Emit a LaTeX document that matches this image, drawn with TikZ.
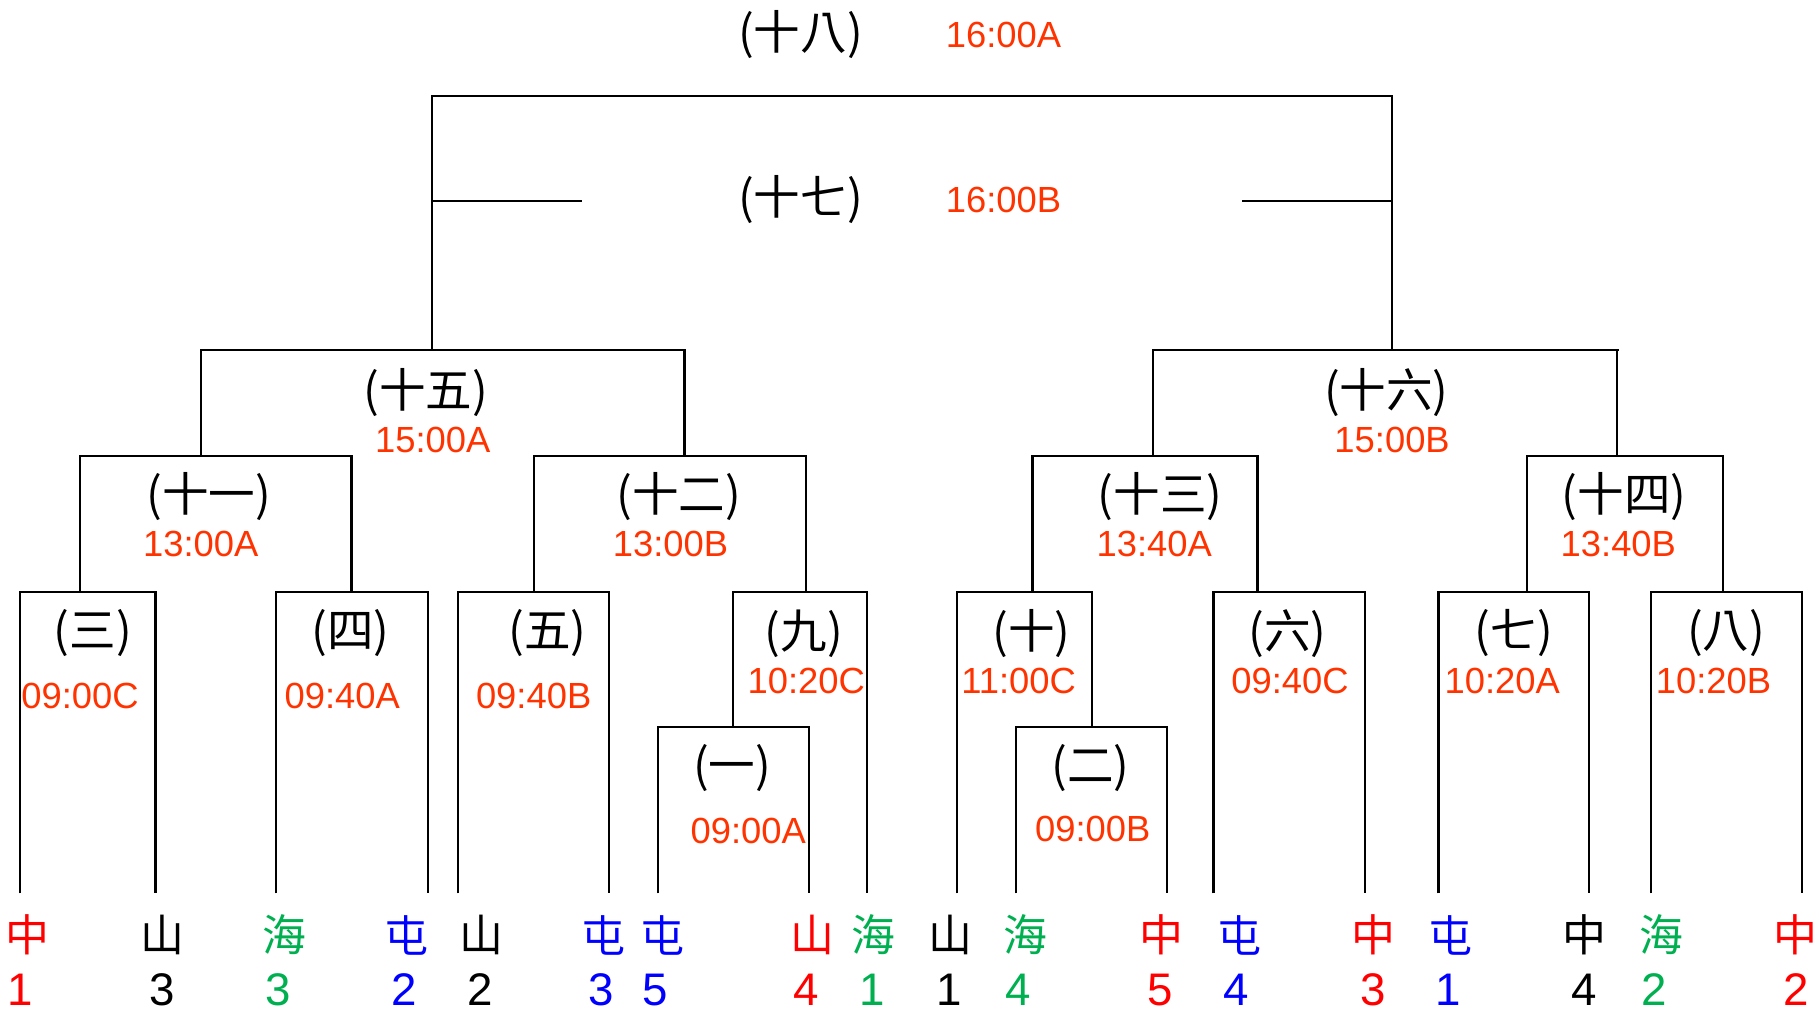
\documentclass[tikz,border=0pt]{standalone}
\usepackage{fontspec}
\setmainfont{Liberation Sans}
\newfontfamily\cjk{Noto Sans CJK TC}
\definecolor{tm}{RGB}{255,51,0}
\definecolor{rd}{RGB}{255,0,0}
\definecolor{bl}{RGB}{0,0,255}
\definecolor{gr}{RGB}{0,176,80}
\newcommand{\mybracket}[6]{%
  \coordinate (#1-tl) at (#2,#4);
  \coordinate (#1-tr) at (#3,#4);
  \coordinate (#1-bl) at (#2,#5);
  \coordinate (#1-br) at (#3,#6);
  \draw[ln] (#1-bl) -- (#1-tl) -- (#1-tr) -- (#1-br);}
\tikzset{
  lbl/.style={inner sep=0pt, font=\cjk\fontsize{26.5pt}{27pt}\selectfont},
  tim/.style={inner sep=0pt, text=tm, font=\fontsize{20.7pt}{21pt}\selectfont},
  team/.style={inner sep=0pt, font=\cjk\fontsize{25pt}{25pt}\selectfont},
  num/.style={inner sep=0pt, font=\fontsize{26pt}{26pt}\selectfont},
  ln/.style={line width=1.2pt, black}
}
\begin{document}
\begin{tikzpicture}[x=0.02321cm, y=-0.02321cm]
\useasboundingbox (0,0) rectangle (1568,871.5);
% brackets
\mybracket{m18}{372}{1200}{83}{302}{302}
\coordinate (m17l) at (372,173);
\coordinate (m17a) at (502,173);
\coordinate (m17b) at (1071,173);
\coordinate (m17r) at (1200,173);
\draw[ln] (m17l) -- (m17a);
\draw[ln] (m17b) -- (m17r);
\mybracket{m15}{173}{590}{302}{393}{393}
\mybracket{m16}{994}{1394}{302}{393}{393}
\draw[ln] (m16-tr) -- ++(2,0);
\mybracket{m11}{69}{303}{393}{510}{510}
\mybracket{m12}{460}{695}{393}{510}{510}
\mybracket{m13}{890}{1084}{393}{510}{510}
\mybracket{m14}{1316}{1485}{393}{510}{510}
\mybracket{m3}{17}{134}{510}{770}{770}
\mybracket{m4}{238}{369}{510}{770}{770}
\mybracket{m5}{395}{525}{510}{770}{770}
\mybracket{m9}{632}{747}{510}{627}{770}
\mybracket{m1}{567}{697}{627}{770}{770}
\mybracket{m10}{825}{941}{510}{770}{627}
\mybracket{m2}{876}{1006}{627}{770}{770}
\mybracket{m6}{1046}{1177}{510}{770}{770}
\mybracket{m7}{1240}{1370}{510}{770}{770}
\mybracket{m8}{1423}{1553}{510}{770}{770}
% match labels
\node[lbl] (l18) at (690,30) {(十八)};
\node[tim] (t18) at (865,30) {16:00A};
\node[lbl] (l17) at (690,172) {(十七)};
\node[tim] (t17) at (865,172) {16:00B};
\node[lbl] (l15) at (367,338) {(十五)};
\node[tim] (t15) at (373,379) {15:00A};
\node[lbl] (l16) at (1195,338) {(十六)};
\node[tim] (t16) at (1200,379) {15:00B};
\node[lbl] (l11) at (180,428) {(十一)};
\node[tim] (t11) at (173,469) {13:00A};
\node[lbl] (l12) at (585,428) {(十二)};
\node[tim] (t12) at (578,469) {13:00B};
\node[lbl] (l13) at (1000,428) {(十三)};
\node[tim] (t13) at (995,469) {13:40A};
\node[lbl] (l14) at (1400,428) {(十四)};
\node[tim] (t14) at (1395,469) {13:40B};
\node[lbl] (l3) at (80,546) {(三)};
\node[tim] (t3) at (69,600) {09:00C};
\node[lbl] (l4) at (302,546) {(四)};
\node[tim] (t4) at (295,600) {09:40A};
\node[lbl] (l5) at (472,546) {(五)};
\node[tim] (t5) at (460,600) {09:40B};
\node[lbl] (l9) at (693,546) {(九)};
\node[tim] (t9) at (695,587) {10:20C};
\node[lbl] (l1) at (631,662) {(一)};
\node[tim] (t1) at (645,716) {09:00A};
\node[lbl] (l10) at (889,546) {(十)};
\node[tim] (t10) at (878,587) {11:00C};
\node[lbl] (l2) at (940,662) {(二)};
\node[tim] (t2) at (942,715) {09:00B};
\node[lbl] (l6) at (1110,546) {(六)};
\node[tim] (t6) at (1112,587) {09:40C};
\node[lbl] (l7) at (1305,546) {(七)};
\node[tim] (t7) at (1295,587) {10:20A};
\node[lbl] (l8) at (1488,546) {(八)};
\node[tim] (t8) at (1477,587) {10:20B};
% teams
\foreach \i/\x/\nx/\c/\n/\col in {
  a/24/17/中/1/rd, b/140/140/山/3/black, c/245/240/海/3/gr, d/350/348/屯/2/bl,
  e/415/414/山/2/black, f/520/518/屯/3/bl, g/571/565/屯/5/bl, h/700/695/山/4/rd,
  i/753/752/海/1/gr, j/819/818/山/1/black, k/884/878/海/4/gr, l/1001/1000/中/5/rd,
  m/1068/1066/屯/4/bl, n/1184/1184/中/3/rd, o/1250/1248/屯/1/bl, p/1366/1366/中/4/black,
  q/1432/1426/海/2/gr, r/1548/1548/中/2/rd}{
  \node[team, text=\col] (tm\i) at (\x,806) {\c};
  \node[num, text=\col] (nm\i) at (\nx,853) {\n};
}
\end{tikzpicture}
\end{document}
